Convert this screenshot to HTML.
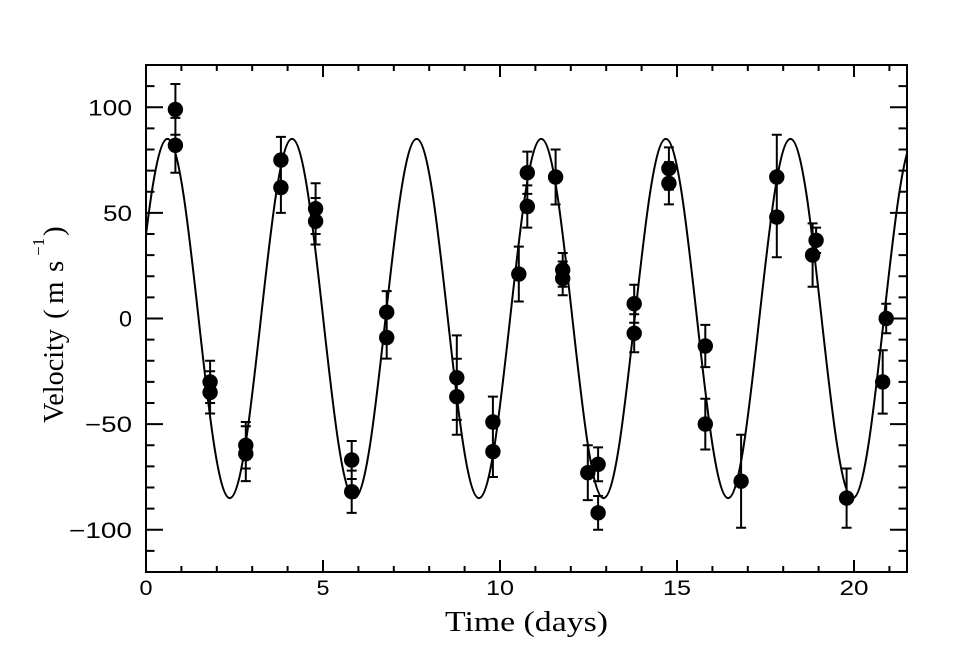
<!DOCTYPE html>
<html><head><meta charset="utf-8"><style>html,body{margin:0;padding:0;background:#fff}svg{display:block}</style></head>
<body>
<svg width="975" height="650" viewBox="0 0 975 650" xmlns="http://www.w3.org/2000/svg">
<rect x="0" y="0" width="975" height="650" fill="#fff"/>
<defs><clipPath id="c"><rect x="146" y="65" width="761" height="507"/></clipPath></defs>
<g fill="none" stroke="#000" stroke-width="2">
<rect x="146" y="65" width="761" height="507"/>
<path d="M181.4,572v-6M216.8,572v-6M252.2,572v-6M287.6,572v-6M323,572v-12M358.4,572v-6M393.8,572v-6M429.2,572v-6M464.6,572v-6M500,572v-12M535.4,572v-6M570.8,572v-6M606.2,572v-6M641.6,572v-6M677,572v-12M712.4,572v-6M747.8,572v-6M783.2,572v-6M818.6,572v-6M854,572v-12M889.4,572v-6"/>
<path d="M181.4,65v6M216.8,65v6M252.2,65v6M287.6,65v6M323,65v12M358.4,65v6M393.8,65v6M429.2,65v6M464.6,65v6M500,65v12M535.4,65v6M570.8,65v6M606.2,65v6M641.6,65v6M677,65v12M712.4,65v6M747.8,65v6M783.2,65v6M818.6,65v6M854,65v12M889.4,65v6"/>
<path d="M146,86.1h8.5M146,107.25h17M146,128.4h8.5M146,149.5h8.5M146,170.6h8.5M146,191.75h8.5M146,212.9h17M146,234h8.5M146,255.1h8.5M146,276.25h8.5M146,297.4h8.5M146,318.5h17M146,339.6h8.5M146,360.75h8.5M146,381.9h8.5M146,403h8.5M146,424.1h17M146,445.25h8.5M146,466.4h8.5M146,487.5h8.5M146,508.6h8.5M146,529.75h17M146,550.9h8.5"/>
<path d="M907,86.1h-8.5M907,107.25h-17M907,128.4h-8.5M907,149.5h-8.5M907,170.6h-8.5M907,191.75h-8.5M907,212.9h-17M907,234h-8.5M907,255.1h-8.5M907,276.25h-8.5M907,297.4h-8.5M907,318.5h-17M907,339.6h-8.5M907,360.75h-8.5M907,381.9h-8.5M907,403h-8.5M907,424.1h-17M907,445.25h-8.5M907,466.4h-8.5M907,487.5h-8.5M907,508.6h-8.5M907,529.75h-17M907,550.9h-8.5"/>
<path clip-path="url(#c)" stroke-linejoin="round" d="M136.3,318.5 c10.16,-92 19.88,-179.6 31.15,-179.6 c11.27,0 20.99,87.6 31.15,179.6 c10.16,92 19.88,179.6 31.15,179.6 c11.27,0 20.99,-87.6 31.15,-179.6 c10.16,-92 19.88,-179.6 31.15,-179.6 c11.27,0 20.99,87.6 31.15,179.6 c10.16,92 19.88,179.6 31.15,179.6 c11.27,0 20.99,-87.6 31.15,-179.6 c10.16,-92 19.88,-179.6 31.15,-179.6 c11.27,0 20.99,87.6 31.15,179.6 c10.16,92 19.88,179.6 31.15,179.6 c11.27,0 20.99,-87.6 31.15,-179.6 c10.16,-92 19.88,-179.6 31.15,-179.6 c11.27,0 20.99,87.6 31.15,179.6 c10.16,92 19.88,179.6 31.15,179.6 c11.27,0 20.99,-87.6 31.15,-179.6 c10.16,-92 19.88,-179.6 31.15,-179.6 c11.27,0 20.99,87.6 31.15,179.6 c10.16,92 19.88,179.6 31.15,179.6 c11.27,0 20.99,-87.6 31.15,-179.6 c10.16,-92 19.88,-179.6 31.15,-179.6 c11.27,0 20.99,87.6 31.15,179.6 c10.16,92 19.88,179.6 31.15,179.6 c11.27,0 20.99,-87.6 31.15,-179.6 c10.16,-92 19.88,-179.6 31.15,-179.6 c11.27,0 20.99,87.6 31.15,179.6"/>
<path d="M175.4,84.05V134.75M170.4,84.05h10M170.4,134.75h10 M175.4,117.84V172.76M170.4,117.84h10M170.4,172.76h10 M210.1,360.77V403.03M205.1,360.77h10M205.1,403.03h10 M210.1,371.27V413.53M205.1,371.27h10M205.1,413.53h10 M245.8,422.06V468.54M240.8,422.06h10M240.8,468.54h10 M245.8,426.24V481.16M240.8,426.24h10M240.8,481.16h10 M280.9,136.86V183.34M275.9,136.86h10M275.9,183.34h10 M280.9,162.15V212.85M275.9,162.15h10M275.9,212.85h10 M315.6,183.3V234M310.6,183.3h10M310.6,234h10 M315.6,198.06V244.54M310.6,198.06h10M310.6,244.54h10 M351.7,440.99V479.01M346.7,440.99h10M346.7,479.01h10 M351.7,470.57V512.83M346.7,470.57h10M346.7,512.83h10 M386.7,291.07V333.33M381.7,291.07h10M381.7,333.33h10 M386.7,316.37V358.63M381.7,316.37h10M381.7,358.63h10 M456.8,335.4V419.9M451.8,335.4h10M451.8,419.9h10 M456.8,358.7V434.7M451.8,358.7h10M451.8,434.7h10 M492.9,396.65V447.35M487.9,396.65h10M487.9,447.35h10 M492.9,426.25V476.95M487.9,426.25h10M487.9,476.95h10 M518.8,246.64V301.56M513.8,246.64h10M513.8,301.56h10 M527.3,151.57V193.83M522.3,151.57h10M522.3,193.83h10 M527.3,185.37V227.63M522.3,185.37h10M522.3,227.63h10 M555.6,149.54V204.46M550.6,149.54h10M550.6,204.46h10 M562.7,253V286.8M557.7,253h10M557.7,286.8h10 M562.7,261.5V295.3M557.7,261.5h10M557.7,295.3h10 M587.8,445.24V500.16M582.8,445.24h10M582.8,500.16h10 M598.1,447.4V481.2M593.1,447.4h10M593.1,481.2h10 M598.1,495.95V529.75M593.1,495.95h10M593.1,529.75h10 M634.2,284.69V322.71M629.2,284.69h10M629.2,322.71h10 M634.2,314.29V352.31M629.2,314.29h10M629.2,352.31h10 M668.9,147.37V189.63M663.9,147.37h10M663.9,189.63h10 M668.9,162.17V204.43M663.9,162.17h10M663.9,204.43h10 M705.3,324.87V367.13M700.3,324.87h10M700.3,367.13h10 M705.3,398.75V449.45M700.3,398.75h10M700.3,449.45h10 M741.1,434.7V527.7M736.1,434.7h10M736.1,527.7h10 M776.8,134.75V219.25M771.8,134.75h10M771.8,219.25h10 M776.8,177V257.2M771.8,177h10M771.8,257.2h10 M816.1,227.6V253M811.1,227.6h10M811.1,253h10 M812.6,223.4V286.8M807.6,223.4h10M807.6,286.8h10 M846.6,468.5V527.7M841.6,468.5h10M841.6,527.7h10 M882.7,350.2V413.6M877.7,350.2h10M877.7,413.6h10 M886.2,303.7V333.3M881.2,303.7h10M881.2,333.3h10"/>
</g>
<g fill="#000">
<circle cx="175.4" cy="109.4" r="7.7"/><circle cx="175.4" cy="145.3" r="7.7"/>
<circle cx="210.1" cy="381.9" r="7.7"/><circle cx="210.1" cy="392.4" r="7.7"/>
<circle cx="245.8" cy="445.3" r="7.7"/><circle cx="245.8" cy="453.7" r="7.7"/>
<circle cx="280.9" cy="160.1" r="7.7"/><circle cx="280.9" cy="187.5" r="7.7"/>
<circle cx="315.6" cy="208.65" r="7.7"/><circle cx="315.6" cy="221.3" r="7.7"/>
<circle cx="351.7" cy="460" r="7.7"/><circle cx="351.7" cy="491.7" r="7.7"/>
<circle cx="386.7" cy="312.2" r="7.7"/><circle cx="386.7" cy="337.5" r="7.7"/>
<circle cx="456.8" cy="377.65" r="7.7"/><circle cx="456.8" cy="396.7" r="7.7"/>
<circle cx="492.9" cy="422" r="7.7"/><circle cx="492.9" cy="451.6" r="7.7"/>
<circle cx="518.8" cy="274.1" r="7.7"/>
<circle cx="527.3" cy="172.7" r="7.7"/><circle cx="527.3" cy="206.5" r="7.7"/>
<circle cx="555.6" cy="177" r="7.7"/>
<circle cx="562.7" cy="269.9" r="7.7"/><circle cx="562.7" cy="278.4" r="7.7"/>
<circle cx="587.8" cy="472.7" r="7.7"/>
<circle cx="598.1" cy="464.3" r="7.7"/><circle cx="598.1" cy="512.85" r="7.7"/>
<circle cx="634.2" cy="303.7" r="7.7"/><circle cx="634.2" cy="333.3" r="7.7"/>
<circle cx="668.9" cy="168.5" r="7.7"/><circle cx="668.9" cy="183.3" r="7.7"/>
<circle cx="705.3" cy="346" r="7.7"/><circle cx="705.3" cy="424.1" r="7.7"/>
<circle cx="741.1" cy="481.2" r="7.7"/>
<circle cx="776.8" cy="177" r="7.7"/><circle cx="776.8" cy="217.1" r="7.7"/>
<circle cx="816.1" cy="240.3" r="7.7"/><circle cx="812.6" cy="255.1" r="7.7"/>
<circle cx="846.6" cy="498.1" r="7.7"/>
<circle cx="882.7" cy="381.9" r="7.7"/><circle cx="886.2" cy="318.5" r="7.7"/>
</g>
<g font-family="'Liberation Sans', sans-serif" font-size="21" fill="#000" text-anchor="middle">
<text x="146" y="595" textLength="13" lengthAdjust="spacingAndGlyphs">0</text>
<text x="323" y="595" textLength="13" lengthAdjust="spacingAndGlyphs">5</text>
<text x="500" y="595" textLength="28" lengthAdjust="spacingAndGlyphs">10</text>
<text x="677" y="595" textLength="28" lengthAdjust="spacingAndGlyphs">15</text>
<text x="854" y="595" textLength="29" lengthAdjust="spacingAndGlyphs">20</text>
</g>
<g font-family="'Liberation Sans', sans-serif" font-size="22" fill="#000" text-anchor="end">
<text x="132" y="115.3" textLength="44" lengthAdjust="spacingAndGlyphs">100</text>
<text x="132" y="220.9" textLength="29" lengthAdjust="spacingAndGlyphs">50</text>
<text x="132" y="326.5" textLength="13" lengthAdjust="spacingAndGlyphs">0</text>
<text x="132" y="432.1" textLength="47" lengthAdjust="spacingAndGlyphs">−50</text>
<text x="132" y="537.8" textLength="63" lengthAdjust="spacingAndGlyphs">−100</text>
</g>
<g font-family="'Liberation Serif', serif" font-size="29" fill="#000">
<text x="445" y="631" textLength="163" lengthAdjust="spacingAndGlyphs">Time (days)</text>
<g transform="translate(63,423) rotate(-90)">
<text x="0" y="0" textLength="94" lengthAdjust="spacingAndGlyphs">Velocity</text>
<text x="104" y="0">(</text>
<text x="119" y="0">m</text>
<text x="151" y="0">s</text>
<text x="167" y="-19" font-size="17">−1</text>
<text x="187" y="0">)</text>
</g>
</g>
</svg>
</body></html>
